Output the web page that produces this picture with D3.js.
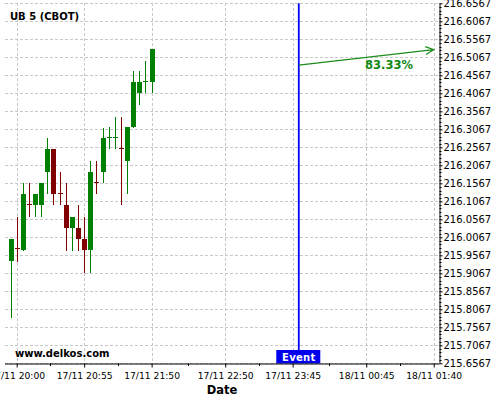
<!DOCTYPE html>
<html>
<head>
<meta charset="utf-8">
<script src="https://cdn.jsdelivr.net/npm/d3@7"></script>
<style>
  body { margin: 0; background: #fff; }
  svg { font-family: "DejaVu Sans", sans-serif; }
</style>
</head>
<body>
<div id="chart"></div>
<script>
// candle data (5 minute bars)
const times = ["17/11 19:55","17/11 20:00","17/11 20:05","17/11 20:10","17/11 20:15","17/11 20:20",
  "17/11 20:25","17/11 20:30","17/11 20:35","17/11 20:40","17/11 20:45","17/11 20:50",
  "17/11 20:55","17/11 21:00","17/11 21:05","17/11 21:10","17/11 21:15","17/11 21:20",
  "17/11 21:25","17/11 21:30","17/11 21:35","17/11 21:40","17/11 21:45","17/11 21:50"];
const open  = [215.942,215.976,215.972,216.100,216.097,216.097,216.189,216.252,216.131,216.096,216.033,216.032,
  216.002,215.972,216.160,216.189,216.283,216.283,216.255,216.219,216.313,216.408,216.440,216.439];
const high  = [216.002,216.062,216.157,216.157,216.127,216.157,216.282,216.252,216.187,216.157,216.063,216.096,
  216.062,216.218,216.218,216.311,216.312,216.342,216.342,216.313,216.469,216.469,216.497,216.530];
const low   = [215.782,215.939,215.969,216.062,216.062,216.062,216.127,216.096,216.096,215.969,215.969,215.969,
  215.907,215.907,216.127,216.157,216.252,216.252,216.096,216.127,216.311,216.373,216.407,216.407];
const close = [216.002,215.974,216.127,216.098,216.127,216.157,216.252,216.128,216.129,216.033,216.063,216.003,
  215.972,216.188,216.158,216.282,216.285,216.285,216.253,216.313,216.438,216.438,216.442,216.530];

// axis ticks
const xTickLabels = ["17/11 20:00","17/11 20:55","17/11 21:50","17/11 22:50","17/11 23:45","18/11 00:45","18/11 01:40"];
const yTicks = [215.6567,215.7067,215.7567,215.8067,215.8567,215.9067,215.9567,216.0067,216.0567,
  216.1067,216.1567,216.2067,216.2567,216.3067,216.3567,216.4067,216.4567,216.5067,216.5567,216.6067,216.6567];

// event and forecast
const eventTime = "17/11 23:50";
const forecastStart = {time: "17/11 23:50", price: 216.485};
const forecastEnd = {time: "18/11 01:40", price: 216.528};
const forecastLabel = "83.33%";

const parse = d3.timeParse("%d/%m %H:%M");
const fmt = d3.timeFormat("%d/%m %H:%M");
const candles = times.map((t, i) => ({date: parse(t), o: open[i], h: high[i], l: low[i], c: close[i]}));
const xTicks = xTickLabels.map(parse);

const W = 500, H = 400;
const plot = {left: 5, right: 439.5, top: 3.3, bottom: 363.5};

const svg = d3.select("#chart").append("svg")
  .attr("width", W).attr("height", H);

// scales
const x = d3.scaleTime()
  .domain([xTicks[0], xTicks[xTicks.length - 1]])
  .range([16.7, 433.7]);
const y = d3.scaleLinear()
  .domain([215.6567, 216.6567])
  .range([363.3, 3.3]);

const green = "#008000", red = "#800000";

// grid
const grid = svg.append("g").attr("stroke", "#c8c8c8").attr("stroke-dasharray", "3,2")
  .attr("shape-rendering", "crispEdges");
grid.selectAll("line.h").data(yTicks).join("line")
  .attr("x1", plot.left).attr("x2", plot.right)
  .attr("y1", d => Math.round(y(d)) + 0.5).attr("y2", d => Math.round(y(d)) + 0.5);
grid.selectAll("line.v").data(xTicks).join("line")
  .attr("x1", d => Math.round(x(d)) + 0.5).attr("x2", d => Math.round(x(d)) + 0.5)
  .attr("y1", plot.top).attr("y2", plot.bottom);

// candles
const bw = 5;
const cg = svg.append("g").attr("shape-rendering", "crispEdges");
const cs = cg.selectAll("g").data(candles).join("g")
  .attr("fill", d => d.c >= d.o ? green : red)
  .attr("stroke", d => d.c >= d.o ? green : red);
cs.append("line")
  .attr("x1", d => Math.round(x(d.date)) + 0.5).attr("x2", d => Math.round(x(d.date)) + 0.5)
  .attr("y1", d => y(d.h)).attr("y2", d => y(d.l));
cs.append("rect")
  .attr("stroke", "none")
  .attr("x", d => Math.round(x(d.date)) - 2)
  .attr("width", bw)
  .attr("y", d => y(Math.max(d.o, d.c)))
  .attr("height", d => Math.max(1, y(Math.min(d.o, d.c)) - y(Math.max(d.o, d.c))));

// event line
const ex = x(parse(eventTime));
svg.append("line")
  .attr("x1", ex).attr("x2", ex).attr("y1", plot.top).attr("y2", 350)
  .attr("stroke", "#0000ff").attr("stroke-width", 1.8);
svg.append("rect")
  .attr("x", ex - 22.5).attr("y", 350).attr("width", 44).attr("height", 13.5)
  .attr("fill", "#0000ee");
svg.append("text")
  .attr("x", ex).attr("y", 360.5).attr("text-anchor", "middle")
  .attr("fill", "#fff").attr("font-size", 10).attr("font-weight", "bold")
  .attr("letter-spacing", 0.3)
  .text("Event");

// forecast arrow
const ax1 = x(parse(forecastStart.time)), ay1 = y(forecastStart.price);
const ax2 = x(parse(forecastEnd.time)), ay2 = y(forecastEnd.price);
const ang = Math.atan2(ay2 - ay1, ax2 - ax1);
const ah = 9;
svg.append("path")
  .attr("d", `M${ax1},${ay1}L${ax2},${ay2}`
    + `M${ax2 - ah * Math.cos(ang - 0.45)},${ay2 - ah * Math.sin(ang - 0.45)}L${ax2},${ay2}`
    + `L${ax2 - ah * Math.cos(ang + 0.45)},${ay2 - ah * Math.sin(ang + 0.45)}`)
  .attr("fill", "none").attr("stroke", "#1a8c1a").attr("stroke-width", 1.2);
svg.append("text")
  .attr("x", 389).attr("y", 69).attr("text-anchor", "middle")
  .attr("fill", "#118811").attr("font-size", 11.5).attr("font-weight", "bold")
  .text(forecastLabel);

// x axis
const xAxis = svg.append("g")
  .attr("transform", `translate(0,${plot.bottom})`)
  .call(d3.axisBottom(x).tickValues(xTicks).tickFormat(fmt).tickSize(4).tickSizeOuter(0));
xAxis.select(".domain").attr("d", `M${plot.left},0.5H${plot.right}`);
xAxis.selectAll("text").attr("font-size", 9.2).attr("font-family", "DejaVu Sans").attr("dy", "0.9em");
const xMinor = d3.pairs(xTicks).map(p => new Date((+p[0] + +p[1]) / 2));
xAxis.selectAll("line.minor").data(xMinor).join("line").attr("class", "minor")
  .attr("x1", d => Math.round(x(d)) + 0.5).attr("x2", d => Math.round(x(d)) + 0.5)
  .attr("y1", 0).attr("y2", 2.5).attr("stroke", "#000");

// y axis (right)
const yAxis = svg.append("g")
  .attr("transform", `translate(${plot.right},0)`)
  .call(d3.axisRight(y).tickValues(yTicks).tickFormat(d3.format(".4f")).tickSize(3).tickSizeOuter(0));
yAxis.select(".domain").attr("d", `M0.5,${plot.top}V${plot.bottom}`);
yAxis.selectAll("text").attr("font-size", 10).attr("font-family", "DejaVu Sans").attr("x", 4);
const yMinor = d3.range(0, 100).map(i => 215.6567 + i * 0.01).filter((d, i) => i % 5 !== 0);
yAxis.selectAll("line.minor").data(yMinor).join("line").attr("class", "minor")
  .attr("x1", 0).attr("x2", 2)
  .attr("y1", d => Math.round(y(d)) + 0.5).attr("y2", d => Math.round(y(d)) + 0.5)
  .attr("stroke", "#000");

// texts
svg.append("text").attr("x", 10).attr("y", 19.5)
  .attr("font-size", 10).attr("font-weight", "bold").text("UB 5 (CBOT)");
svg.append("text").attr("x", 15).attr("y", 357)
  .attr("font-size", 10).attr("font-weight", "bold").text("www.delkos.com");
svg.append("text").attr("x", 222).attr("y", 393.5).attr("text-anchor", "middle")
  .attr("font-size", 11.5).attr("font-weight", "bold").text("Date");
</script>
</body>
</html>
